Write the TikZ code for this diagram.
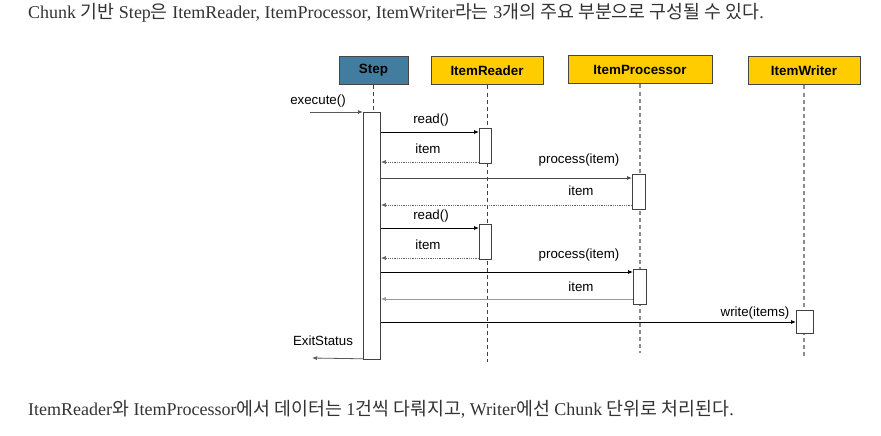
\documentclass[tikz,border=0pt]{standalone}
\usepackage{fontspec}
\setmainfont{Liberation Serif}
\newfontfamily\kr{Noto Sans CJK KR}[Scale=1.02]
\newfontfamily\hv{Liberation Sans}
\usetikzlibrary{arrows.meta}
\definecolor{stepblue}{RGB}{66,124,158}
\definecolor{itemyellow}{RGB}{255,204,0}
\definecolor{boxborder}{RGB}{70,70,70}
\definecolor{txtgray}{RGB}{51,51,51}
\begin{document}
\begin{tikzpicture}[x=1pt,y=-1pt,
  head/.style={draw=boxborder, line width=1pt, minimum height=28pt, inner sep=0pt, font=\hv\bfseries\fontsize{13.4}{15}\selectfont},
  life/.style={dash pattern=on 4pt off 3pt, line width=0.9pt},
  act/.style={draw=black!75, fill=white, line width=0.8pt, inner sep=0pt, anchor=north west},
  msg/.style={line width=0.8pt, -{Latex[length=5pt,width=4pt]}},
  ret/.style={line width=0.8pt, densely dotted, draw=black!60, -{Latex[length=5pt,width=4pt]}},
  lbl/.style={font=\hv\fontsize{13.3}{15}\selectfont, inner sep=0pt},
  para/.style={font=\fontsize{18}{21}\selectfont, text=txtgray, anchor=west, inner sep=0pt}
]
\useasboundingbox (0,0) rectangle (881,436);
\fill[white] (0,0) rectangle (881,436);

% paragraphs
\node[para] (top) at (28,13) {Chunk {\kr 기반} Step{\kr 은} ItemReader, ItemProcessor, ItemWriter{\kr 라는} 3{\kr 개의 주요 부분으로 구성될 수 있다}.};
\node[para] (bottom) at (28,409) {ItemReader{\kr 와} ItemProcessor{\kr 에서 데이터는} 1{\kr 건씩 다뤄지고}, Writer{\kr 에선} Chunk {\kr 단위로 처리된다}.};

% headers
\node[head, fill=stepblue, minimum width=69pt] (step) at (373.5,70.5) {Step};
\node[head, fill=itemyellow, minimum width=112pt] (reader) at (487,71) {ItemReader};
\node[head, fill=itemyellow, minimum width=144pt] (proc) at (640,70) {ItemProcessor};
\node[head, fill=itemyellow, minimum width=112pt] (writer) at (804,71) {ItemWriter};

% lifelines
\coordinate (stepend) at (373.5,112);
\coordinate (readerend) at (487,362);
\coordinate (procend) at (640,353);
\coordinate (writerend) at (804,357);
\draw[life, draw=black!75] (step.south) -- (stepend);
\draw[life, draw=black!75] (reader.south) -- (readerend);
\draw[life, draw=black!45, line width=1.2pt] (proc.south) -- (procend);
\draw[life, draw=black!45, line width=1.2pt] (writer.south) -- (writerend);

% activations
\node[act, minimum width=17pt, minimum height=247pt] (sa) at (363,112) {};
\node[act, minimum width=12pt, minimum height=35pt] (ra1) at (479,128) {};
\node[act, minimum width=12pt, minimum height=35pt] (ra2) at (479,224) {};
\node[act, minimum width=13pt, minimum height=35pt] (pa1) at (632,174) {};
\node[act, minimum width=13pt, minimum height=35pt] (pa2) at (633,269) {};
\node[act, minimum width=17pt, minimum height=23pt] (wa) at (796,310) {};

% execute
\coordinate (execstart) at (310,112);
\draw[msg, draw=black!65] (execstart) -- (sa.north west);
\node[lbl] (lexec) at (318,101) {execute()};

% read 1
\draw[msg] (sa.east |- 0,132) -- (ra1.west |- 0,132);
\node[lbl] (lread1) at (431,120) {read()};
\draw[ret] (ra1.west |- 0,162) -- (sa.east |- 0,162);
\node[lbl] (litem1) at (428,149) {item};

% process 1
\draw[msg, draw=black!70] (sa.east |- 0,178) -- (pa1.west |- 0,178);
\node[lbl] (lproc1) at (579,160) {process(item)};
\draw[ret] (pa1.west |- 0,205) -- (sa.east |- 0,205);
\node[lbl] (litem2) at (581,191) {item};

% read 2
\draw[msg] (sa.east |- 0,228) -- (ra2.west |- 0,228);
\node[lbl] (lread2) at (431,216) {read()};
\draw[ret] (ra2.west |- 0,258) -- (sa.east |- 0,258);
\node[lbl] (litem3) at (428,245) {item};

% process 2
\draw[msg] (sa.east |- 0,272) -- (pa2.west |- 0,272);
\node[lbl] (lproc2) at (579,255) {process(item)};
\draw[line width=0.8pt, draw=black!40, -{Latex[length=5pt,width=4pt]}] (pa2.west |- 0,299) -- (sa.east |- 0,299);
\node[lbl] (litem4) at (581,287) {item};

% write
\draw[msg] (sa.east |- 0,322) -- (wa.west |- 0,322);
\node[lbl] (lwrite) at (755,313) {write(items)};

% exit
\coordinate (exitend) at (312,358);
\draw[msg, draw=black!65] (sa.south west) ++(0,-1) -- (exitend);
\node[lbl] (lexit) at (323,341) {ExitStatus};
\end{tikzpicture}
\end{document}
